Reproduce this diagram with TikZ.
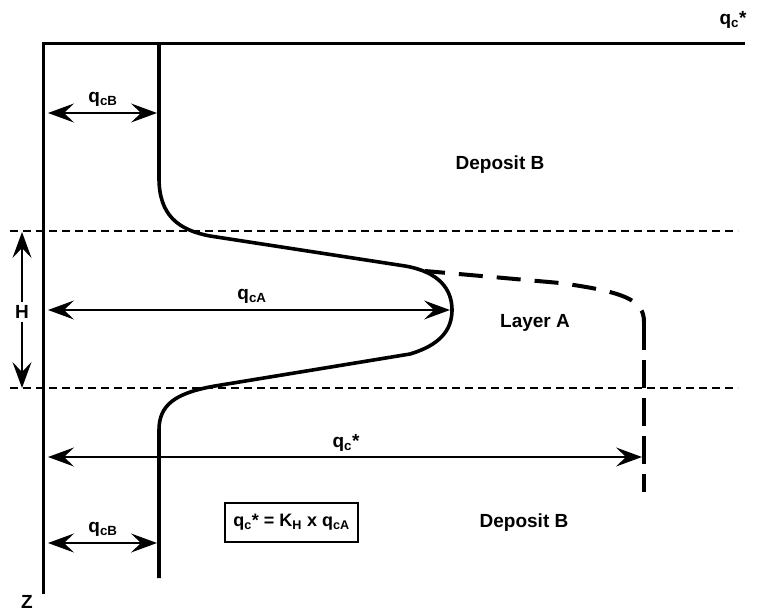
\documentclass[tikz,border=0pt]{standalone}
\usepackage{fontspec}
\setmainfont{Liberation Sans}
\usetikzlibrary{arrows.meta}
\tikzset{
  lbl/.style={font=\fontsize{19}{22}\selectfont\bfseries, inner sep=1pt},
  axisline/.style={line width=3pt, line cap=rect},
  profile/.style={line width=3.6pt, line join=round},
  profdash/.style={line width=4pt, dash pattern=on 24pt off 14pt, dash phase=4pt},
  profdashv/.style={line width=4pt, dash pattern=on 28pt off 10pt},
  layerline/.style={line width=1.3pt, dash pattern=on 8pt off 5pt},
  tip/.style={Stealth[length=26pt,width=19pt,inset=10pt]},
  dimarrow/.style={line width=1.4pt, {Stealth[length=26pt,width=19pt,inset=10pt]}-{Stealth[length=26pt,width=19pt,inset=10pt]}},
  onearrow/.style={line width=1.4pt, -{Stealth[length=26pt,width=19pt,inset=10pt]}},
}
\begin{document}
\begin{tikzpicture}[x=1pt,y=-1pt]
\useasboundingbox (0,0) rectangle (759,612);
% axes
\coordinate (o) at (43,44);
\coordinate (xend) at (743,44);
\coordinate (zend) at (43,592);
\draw[axisline] (xend) -- (o) -- (zend);
\node[lbl] (qstar) at (733,20) {q\textsubscript{c}*};
\node[lbl] (z) at (27,602) {Z};
% layer boundaries
\coordinate (lt1) at (10,231);
\coordinate (lt2) at (738,231);
\coordinate (lb1) at (10,388);
\coordinate (lb2) at (738,388);
\draw[layerline] (lt1) -- (lt2);
\draw[layerline] (lb1) -- (lb2);
% profile
\draw[profile] (159,44) -- (159,178) .. controls (159,215) and (178,230) .. (210,236)
  -- (405,266) .. controls (440,272) and (452,290) .. (452,310)
  .. controls (452,330) and (440,345) .. (410,354)
  -- (215,386) .. controls (175,393) and (159,405) .. (159,430) -- (159,578);
% corrected profile
\coordinate (d0) at (425,271);
\coordinate (d1) at (644,322);
\coordinate (d2) at (644,492);
\draw[profdash] (d0) -- (560,283) .. controls (625,292) and (644,300) .. (d1);
\draw[profdashv] (d1) -- (d2);
% H arrow
\node[lbl, inner sep=3pt] (H) at (22,312) {H};
\coordinate (htop) at (22,232);
\coordinate (hbot) at (22,388);
\draw[onearrow] (H.north) -- (htop);
\draw[onearrow] (H.south) -- (hbot);
% qcB top
\coordinate (a1l) at (48,113);
\coordinate (a1r) at (157,113);
\draw[dimarrow] (a1l) -- (a1r);
\node[lbl] (qcb1) at (103,99) {q\textsubscript{cB}};
% qcA
\coordinate (a2l) at (48,310);
\coordinate (a2r) at (450,310);
\draw[dimarrow] (a2l) -- (a2r);
\node[lbl] (qca) at (252,296) {q\textsubscript{cA}};
% qc*
\coordinate (a3l) at (48,457);
\coordinate (a3r) at (642,457);
\draw[dimarrow] (a3l) -- (a3r);
\node[lbl] (qcs) at (346,443) {q\textsubscript{c}*};
% qcB bottom
\coordinate (a4l) at (48,543);
\coordinate (a4r) at (157,543);
\draw[dimarrow] (a4l) -- (a4r);
\node[lbl] (qcb2) at (103,529) {q\textsubscript{cB}};
% formula box
\node[draw, line width=1.3pt, minimum width=133pt, minimum height=39pt, inner sep=1pt,
  font=\fontsize{18}{21}\selectfont\bfseries] (formula) at (291.5,522.5)
  {q\textsubscript{c}* = K\textsubscript{H} x q\textsubscript{cA}};
% region labels
\node[lbl] (depB1) at (500,165) {Deposit B};
\node[lbl] (layA) at (535,323) {Layer A};
\node[lbl] (depB2) at (524,523) {Deposit B};
\end{tikzpicture}
\end{document}
